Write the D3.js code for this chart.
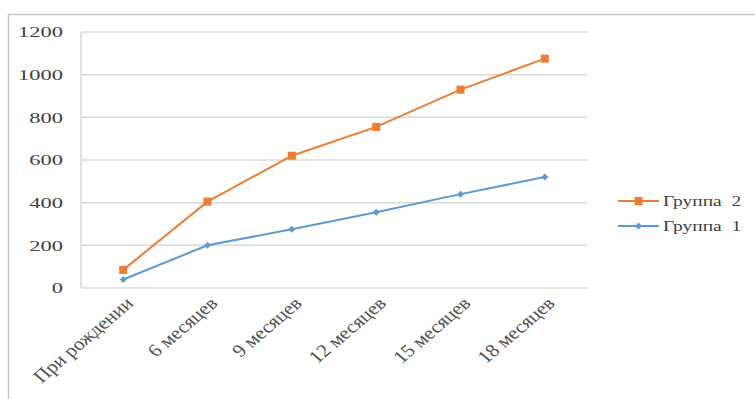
<!DOCTYPE html>
<html>
<head>
<meta charset="utf-8">
<script src="https://cdn.jsdelivr.net/npm/d3@7"></script>
<style>
  body { margin: 0; background: #fff; }
</style>
</head>
<body>
<div id="chart"></div>
<script>
const categories = ["При рождении", "6 месяцев", "9 месяцев", "12 месяцев", "15 месяцев", "18 месяцев"];
const group2 = [85, 405, 620, 755, 930, 1075];
const group1 = [40, 200, 275, 355, 440, 520];
const yTicks = [0, 200, 400, 600, 800, 1000, 1200];

const width = 755, height = 399;
const plot = { left: 81, right: 587, top: 32, bottom: 288 };
const serif = "Liberation Serif, DejaVu Serif";
// the source picture is stretched sideways, so text gets widened too
const stretch = 1.3;

const svg = d3.select("#chart").append("svg")
  .attr("width", width)
  .attr("height", height)
  .style("font-family", serif);

// chart border (clipped at right/bottom like the source)
svg.append("rect")
  .attr("x", 8.5).attr("y", 14.5)
  .attr("width", 800).attr("height", 420)
  .attr("fill", "none")
  .attr("stroke", "#c8c8c8")
  .attr("stroke-width", 1.5);

let x = d3.scaleBand()
  .domain(categories)
  .range([plot.left, plot.right]);

let y = d3.scaleLinear()
  .domain([0, 1200])
  .range([plot.bottom, plot.top]);

const cx = d => x(d) + x.bandwidth() / 2;

// gridlines
svg.append("g")
  .selectAll("line")
  .data(yTicks)
  .join("line")
  .attr("x1", plot.left).attr("x2", plot.right)
  .attr("y1", d => y(d)).attr("y2", d => y(d))
  .attr("stroke", "#d9d9d9")
  .attr("stroke-width", 1.5);

// y axis line
svg.append("line")
  .attr("x1", plot.left).attr("x2", plot.left)
  .attr("y1", plot.top).attr("y2", plot.bottom)
  .attr("stroke", "#d9d9d9")
  .attr("stroke-width", 1.5);

// y labels
svg.append("g")
  .selectAll("text")
  .data(yTicks)
  .join("text")
  .attr("transform", d => "translate(63," + y(d) + ") scale(1.45,1)")
  .attr("dy", "0.35em")
  .attr("text-anchor", "end")
  .attr("fill", "#404040")
  .style("font-size", "15.5px")
  .text(d => d);

// x labels, rotated
svg.append("g")
  .selectAll("text")
  .data(categories)
  .join("text")
  .attr("transform", d => "translate(" + (cx(d) + 6) + ",300) scale(1.17,1) rotate(-45)")
  .attr("text-anchor", "end")
  .attr("dy", "0.35em")
  .attr("fill", "#505050")
  .style("font-size", "18px")
  .text(d => d);

const line = d3.line()
  .x((d, i) => cx(categories[i]))
  .y(d => y(d));

const series = [
  { name: "Группа  2", values: group2, color: "#ED7D31", marker: "square" },
  { name: "Группа  1", values: group1, color: "#5B9BD5", marker: "diamond" }
];

function drawMarker(g, type, color) {
  if (type === "square") {
    g.append("rect")
      .attr("x", -4).attr("y", -4)
      .attr("width", 8).attr("height", 8)
      .attr("fill", color);
  } else {
    g.append("path")
      .attr("d", "M0,-3.5L3.5,0L0,3.5L-3.5,0Z")
      .attr("fill", color);
  }
}

series.forEach(s => {
  svg.append("path")
    .datum(s.values)
    .attr("d", line)
    .attr("fill", "none")
    .attr("stroke", s.color)
    .attr("stroke-width", 2);

  s.values.forEach((v, i) => {
    let g = svg.append("g")
      .attr("transform", "translate(" + cx(categories[i]) + "," + y(v) + ")");
    drawMarker(g, s.marker, s.color);
  });
});

// legend
series.forEach((s, i) => {
  let ly = 201 + i * 25;
  let g = svg.append("g");
  g.append("line")
    .attr("x1", 618).attr("x2", 659)
    .attr("y1", ly).attr("y2", ly)
    .attr("stroke", s.color)
    .attr("stroke-width", 2);
  drawMarker(g.append("g").attr("transform", "translate(638.5," + ly + ")"), s.marker, s.color);
  g.append("text")
    .attr("transform", "translate(663," + ly + ") scale(" + stretch + ",1)")
    .attr("dy", "0.35em")
    .attr("fill", "#404040")
    .attr("xml:space", "preserve")
    .style("white-space", "pre")
    .style("font-size", "15px")
    .text(s.name);
});
</script>
</body>
</html>
